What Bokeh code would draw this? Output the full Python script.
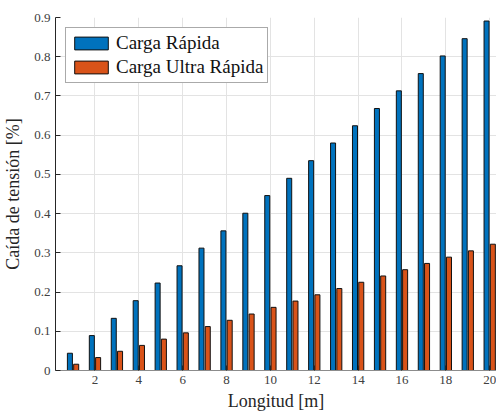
from bokeh.plotting import figure
from bokeh.models import ColumnDataSource, FixedTicker, NumeralTickFormatter, Range1d
from bokeh.transform import dodge
from bokeh.embed import file_html
from bokeh.resources import INLINE

longitud = [1, 2, 3, 4, 5, 6, 7, 8, 9, 10, 11, 12, 13, 14, 15, 16, 17, 18, 19, 20]
carga_rapida = [0.044, 0.089, 0.133, 0.178, 0.223, 0.267, 0.312, 0.356, 0.401, 0.446,
                0.490, 0.535, 0.580, 0.624, 0.668, 0.713, 0.757, 0.802, 0.846, 0.891]
carga_ultra = [0.016, 0.033, 0.049, 0.064, 0.080, 0.096, 0.112, 0.128, 0.144, 0.161,
               0.177, 0.193, 0.209, 0.225, 0.241, 0.257, 0.273, 0.289, 0.305, 0.322]
x_ticks = [2, 4, 6, 8, 10, 12, 14, 16, 18, 20]
y_ticks = [0, 0.1, 0.2, 0.3, 0.4, 0.5, 0.6, 0.7, 0.8, 0.9]

source = ColumnDataSource(dict(x=longitud, rapida=carga_rapida, ultra=carga_ultra))

FONT = "Liberation Serif"
BLUE = "#0072BD"
ORANGE = "#D95319"

p = figure(width=496, height=415, output_backend="svg", toolbar_location=None,
           x_range=Range1d(0.2, 20.31), y_range=Range1d(0, 0.9),
           min_border_left=53, min_border_right=0, min_border_top=17, min_border_bottom=45)
p.outline_line_color = None
p.background_fill_color = "white"
p.border_fill_color = "white"

p.vbar(x=dodge("x", -0.143, range=p.x_range), top="rapida", width=0.229, source=source,
       fill_color=BLUE, line_color="#111111", line_width=1, legend_label="Carga Rápida")
p.vbar(x=dodge("x", 0.143, range=p.x_range), top="ultra", width=0.229, source=source,
       fill_color=ORANGE, line_color="#111111", line_width=1, legend_label="Carga Ultra Rápida")

p.xaxis.ticker = FixedTicker(ticks=x_ticks)
p.yaxis.ticker = FixedTicker(ticks=y_ticks)
p.yaxis.formatter = NumeralTickFormatter(format="0.[0]")

for ax in (p.xaxis, p.yaxis):
    ax.major_tick_in = 5
    ax.major_tick_out = 0
    ax.minor_tick_in = 0
    ax.minor_tick_out = 0
    ax.major_label_text_font = FONT
    ax.major_label_text_font_size = "13px"
    ax.major_label_text_color = "#404040"
    ax.axis_label_text_font = FONT
    ax.axis_label_text_font_size = "18px"
    ax.axis_label_text_font_style = "normal"
    ax.axis_label_text_color = "#262626"
    ax.major_tick_line_color = "#262626"

p.yaxis.axis_line_color = "#262626"
p.xaxis.axis_line_color = "#8c8c8c"
p.xaxis.axis_label = "Longitud [m]"
p.yaxis.axis_label = "Caída de tensión [%]"
p.xaxis.major_label_standoff = 5
p.yaxis.major_label_standoff = 5
p.xaxis.axis_label_standoff = 4
p.yaxis.axis_label_standoff = 8

p.xgrid.grid_line_color = "#e3e3e3"
p.ygrid.grid_line_color = "#e3e3e3"

lg = p.legend[0]
lg.location = "top_left"
lg.margin = 10
lg.padding = 4
lg.spacing = 2
lg.glyph_width = 42
lg.glyph_height = 16
lg.label_height = 20
lg.label_standoff = 4
lg.label_text_font = FONT
lg.label_text_font_size = "19px"
lg.label_text_color = "#111111"
lg.border_line_color = "#555555"
lg.border_line_width = 1
lg.background_fill_color = "white"
lg.background_fill_alpha = 1.0

open("out.html", "w").write(file_html(p, INLINE))
